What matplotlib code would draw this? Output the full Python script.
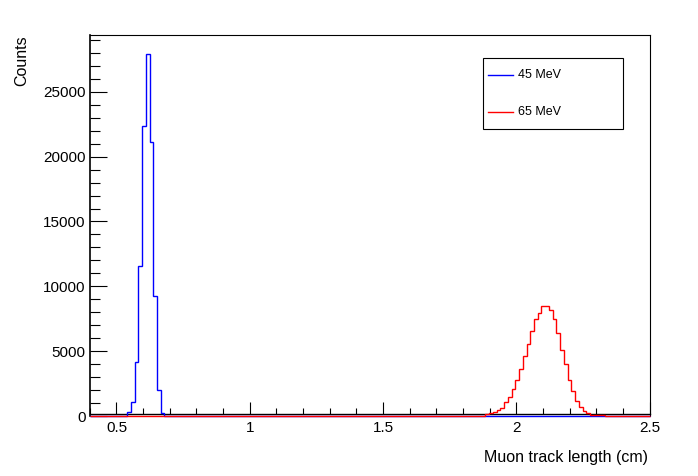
import numpy as np
import matplotlib
matplotlib.use("Agg")
import matplotlib.pyplot as plt
from matplotlib.ticker import MultipleLocator
from matplotlib.patches import Rectangle

plt.rcParams['font.family'] = ['Liberation Sans', 'DejaVu Sans']

# histogram binning: 150 bins from 0.4 to 2.5 cm
x_min, x_max, n_bins = 0.4, 2.5, 150

# 45 MeV: non-zero bins starting at bin 10
blue_first_bin = 10
blue_counts = [280, 1080, 4150, 11540, 22380, 27900, 21150, 9230, 2000, 230]

# 65 MeV: non-zero bins starting at bin 106
red_first_bin = 106
red_counts = [128, 205, 282, 436, 641, 1077, 1436, 2051, 2769, 3590,
              4590, 5590, 6590, 7513, 7974, 8462, 8462, 8154, 7513, 6385,
              5128, 3974, 2769, 1949, 1154, 718, 385, 205, 77, 77, 77, 77]

labels = ["45 MeV", "65 MeV"]
colors = ["blue", "red"]

edges = np.linspace(x_min, x_max, n_bins + 1)
blue = np.zeros(n_bins)
blue[blue_first_bin:blue_first_bin + len(blue_counts)] = blue_counts
red = np.zeros(n_bins)
red[red_first_bin:red_first_bin + len(red_counts)] = red_counts

W, H = 698, 476
fig = plt.figure(figsize=(W/100, H/100), dpi=100)
ax = fig.add_axes([89.8/W, 1 - 416/H, (649.7 - 89.8)/W, (416 - 35)/H])

ax.stairs(blue, edges, color=colors[0], lw=1.0, baseline=None, clip_on=False, zorder=3)
ax.stairs(red, edges, color=colors[1], lw=1.0, baseline=None, clip_on=False, zorder=4)

ax.set_xlim(x_min, x_max)
ax.set_ylim(0, 29380)

ax.xaxis.set_major_locator(MultipleLocator(0.5))
ax.xaxis.set_minor_locator(MultipleLocator(0.1))
ax.yaxis.set_major_locator(MultipleLocator(5000))
ax.yaxis.set_minor_locator(MultipleLocator(1000))
ax.xaxis.set_major_formatter(plt.FuncFormatter(lambda v, p: ('%g' % v)))

ax.tick_params(axis='x', which='major', direction='in', length=8.6, width=0.8,
               labelsize=11, pad=5.5)
ax.tick_params(axis='x', which='minor', direction='in', length=4.3, width=0.8)
ax.tick_params(axis='y', which='major', direction='in', length=12.2, width=0.8,
               labelsize=11, pad=3)
ax.tick_params(axis='y', which='minor', direction='in', length=7.2, width=0.8)
for s in ax.spines.values():
    s.set_linewidth(0.8)
ax.spines['left'].set_linewidth(1.2)
ax.spines['bottom'].set_linewidth(1.0)
# ROOT draws the zero line just below the frame axis
ax.spines['bottom'].set_position(('outward', -1.8))

fig.text(648/W, 1 - 462/H, "Muon track length (cm)", ha='right',
         va='baseline', fontsize=11.5)
fig.text(21.7/W, 1 - 35/H, "Counts", rotation=90, ha='center',
         va='top', fontsize=11.5)

# legend box drawn like the ROOT TLegend
fig.add_artist(Rectangle((483.3/W, 1 - 129/H), (623.3 - 483.3)/W, (129 - 58.3)/H,
                         transform=fig.transFigure, fill=False,
                         edgecolor='black', lw=0.8))
for i, (lab, col) in enumerate(zip(labels, colors)):
    yy = 1 - (75 + 36.7*i)/H
    fig.add_artist(plt.Line2D([488/W, 513/W], [yy, yy], color=col, lw=1.0,
                              transform=fig.transFigure))
    fig.text(517.7/W, yy, lab, ha='left', va='center', fontsize=9)

fig.savefig("out.png", dpi=100)
